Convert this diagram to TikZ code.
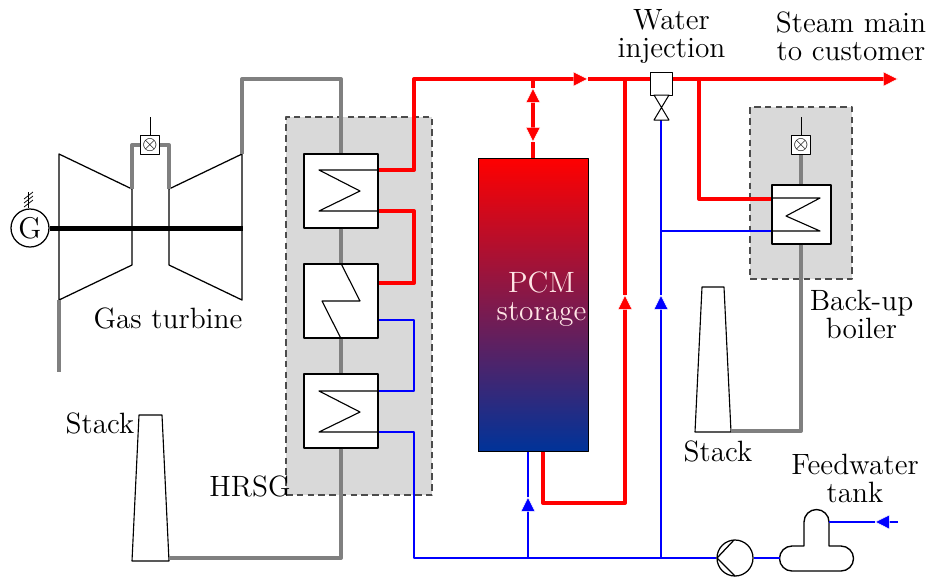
\documentclass[tikz,border=0pt]{standalone}
\usepackage{amsmath}
\usepackage{amssymb}
\usetikzlibrary{arrows.meta}
\definecolor{coldend}{rgb}{0,0.2,0.6}

\begin{document}
\begin{tikzpicture} [x=0.4pt, y=-0.4pt, line join=round,
	label/.style={font=\fontsize{11.75}{11.2}\selectfont, align=center, inner sep=0pt},
	unit/.style={draw=black, line width=0.5pt},
	casing/.style={draw=black!70, fill=black!15, line width=0.8pt, dash pattern=on 2.6pt off 1.7pt},
	hxbox/.style={draw=black, fill=white, line width=0.45pt, minimum size=29.6pt, inner sep=0pt},
	burner/.style={draw=black, fill=white, line width=0.6pt, minimum size=7.6pt, inner sep=0pt, font=\fontsize{7}{7}\selectfont},
	gaspipe/.style={draw=black!50, line width=1.6pt},
	steam/.style={draw=red, line width=1.6pt},
	water/.style={draw=blue, line width=0.47pt},
	steamflow/.style={steam, -{Triangle[length=5.8pt, width=5.8pt, fill=red, color=white, line width=0.15pt]}},
	waterflow/.style={water, -{Triangle[length=5.8pt, width=5.8pt, fill=blue, color=white, line width=0.15pt]}}]
	\clip (0,0) rectangle (931,576);

	% casings
	\node (hrsg) [casing, minimum width=58.4pt, minimum height=151.2pt, inner sep=0pt] at (359,306) {};
	\node (boiler) [casing, minimum width=40.8pt, minimum height=68.8pt, inner sep=0pt] at (801,193) {};

	% gas turbine
	\coordinate (cin) at (59,300);
	\coordinate (cout) at (132,189);
	\coordinate (tin) at (169,189);
	\coordinate (tout) at (242,154);
	\draw [unit] (59,154) -- (cout) -- (132,265) -- (cin) -- cycle;
	\draw [unit] (tout) -- (tin) -- (169,265) -- (242,300) -- cycle;
	\node (gen) [circle, draw, fill=white, line width=0.5pt, minimum size=15.2pt, inner sep=0pt, font=\fontsize{12}{12}\selectfont] at (30,228) {G};
	\coordinate (shaftend) at (243,228);
	\draw [line width=2pt] (gen) -- (shaftend);
	\coordinate (gridtop) at (28,192);
	\draw [line width=0.4pt] (gen.north -| gridtop) -- (gridtop);
	\draw [line width=0.3pt] (24,207) -- (33,200) (24,203) -- (33,196) (24,199) -- (33,192);
	\node (combustor) [burner] at (150,145) {$\otimes$};
	\coordinate (fuela) at (150,117);
	\draw [line width=0.4pt] (fuela) -- (combustor);
	\coordinate (airin) at (59,372);

	% heat exchangers
	\node (eco) [hxbox] at (341,411) {};
	\node (eva) [hxbox] at (341,301) {};
	\node (sup) [hxbox] at (341,191) {};
	\node (aux) [hxbox, minimum size=23.6pt] at (801.5,214.5) {};
	\draw [line width=0.45pt] (sup.east |- 0,170) -- (319,170) -- (360,191) -- (319,211) -- (sup.east |- 0,211);
	\draw [line width=0.45pt] (eva.north) -- (360,301) -- (322,301) -- (eva.south);
	\draw [line width=0.45pt] (eco.east |- 0,391) -- (319,391) -- (360,412) -- (319,432) -- (eco.east |- 0,432);
	\draw [line width=0.45pt] (aux.west |- 0,198) -- (820,198) -- (786,216) -- (820,231) -- (aux.west |- 0,231);

	% flue gas
	\coordinate (stackaout) at (169,558);
	\coordinate (stackbout) at (731,431);
	\draw [unit, line width=0.45pt] (139,415) -- (162,415) -- (169,561) -- (132,561) -- cycle;
	\draw [unit, line width=0.45pt] (702,287) -- (724,287) -- (731,432) -- (695,432) -- cycle;
	\draw [gaspipe] (cin) -- (airin);
	\draw [gaspipe] (cout) |- (combustor);
	\draw [gaspipe] (tin) |- (combustor);
	\draw [gaspipe] (tout) |- (sup.north |- 0,79) -- (sup.north);
	\draw [gaspipe] (sup) -- (eva);
	\draw [gaspipe] (eva) -- (eco);
	\draw [gaspipe] (eco.south) |- (stackaout);
	\node (auxburner) [burner] at (801,145) {$\otimes$};
	\coordinate (fuelb) at (801,117);
	\draw [line width=0.4pt] (fuelb) -- (auxburner);
	\draw [gaspipe] (auxburner) -- (aux.north -| auxburner);
	\draw [gaspipe] (aux.south -| auxburner) |- (stackbout);

	% storage
	\node (storage) [draw=black, line width=0.4pt, top color=red, bottom color=coldend, minimum width=44pt, minimum height=117.2pt, inner sep=0pt] at (533,304.5) {};
	\node (storagelabel) [label, text=white!90!red] at (541.5,299.5) {PCM\\storage};

	% steam lines
	\coordinate (steamout) at (898,79);
	\coordinate (mainflow) at (588,79);
	\coordinate (steamtop) at (414,79);
	\coordinate (tap) at (533,79);
	\coordinate (risertop) at (625,79);
	\coordinate (risertip) at (625,295);
	\coordinate (branch) at (699,79);
	\coordinate (chargetip) at (533,88);
	\coordinate (dischargetip) at (533,142);
	\coordinate (storagemid) at (533,115);
	\draw [steamflow] (mainflow) -- (steamout);
	\draw [steamflow] (sup.east |- 0,170) -| (steamtop) -- (mainflow);
	\draw [steam] (sup.east |- 0,211) -| (414,283) -- (eva.east |- 0,283);
	\draw [steam] (tap) -- (chargetip);
	\draw [steam] (dischargetip) -- (storage.north);
	\draw [steamflow] (storagemid) -- (chargetip);
	\draw [steamflow] (storagemid) -- (dischargetip);
	\draw [steam] (risertip) -- (risertop);
	\draw [steamflow] (storage.south -| 543,0) |- (625,503) -- (risertip);
	\draw [steam] (branch) |- (aux.west |- 0,199);

	% water lines
	\node (pump) [circle, draw, line width=0.5pt, minimum size=14.4pt, inner sep=0pt] at (735,558) {};
	\coordinate (junction) at (661,558);
	\coordinate (lowline) at (414,558);
	\coordinate (storagein) at (528,558);
	\coordinate (storagetip) at (528,497);
	\coordinate (injtip) at (661,295);
	\coordinate (feedin) at (898,522);
	\coordinate (feedtip) at (875,522);
	\draw [water] (eva.east |- 0,320) -| (414,391) -- (eco.east |- 0,391);
	\draw [water] (eco.east |- 0,432) -| (lowline) -- (pump.west);
	\draw [water] (storage.south -| storagetip) -- (storagetip);
	\draw [waterflow] (storagein) -- (storagetip);
	\draw [water] (661,120) -- (injtip);
	\draw [waterflow] (junction) -- (injtip);
	\draw [water] (661,231) -- (aux.west |- 0,231);
	\draw [line width=0.5pt] (717,558) -- (734,540) (717,558) -- (735,576);

	% feedwater tank
	\draw [line width=0.55pt] (804,546) -- (804,522) arc (180:360:12.5) -- (829,546) -- (841,546) arc (-90:90:12.5) -- (792,571) arc (90:270:12.5) -- cycle;
	\coordinate (tankin) at (829,522);
	\coordinate (tankout) at (780,558);
	\draw [water] (pump.east) -- (tankout);
	\draw [water] (feedtip) -- (tankin);
	\draw [waterflow] (feedin) -- (feedtip);

	% injection valve
	\node (injbox) [draw=black, fill=white, line width=0.4pt, minimum width=8.8pt, minimum height=9.2pt, inner sep=0pt] at (661,83.5) {};
	\draw [line width=0.4pt, fill=white] (654,95) -- (669,95) -- (654,120) -- (669,120) -- cycle;

	% labels
	\node (gtlabel) [label] at (168,318) {Gas turbine};
	\node (stacka) [label] at (100,423) {Stack};
	\node (hrsglabel) [label] at (250,486) {HRSG};
	\node (stackb) [label] at (718,451) {Stack};
	\node (backup) [label] at (861.5,314) {Back-up\\boiler};
	\node (feed) [label] at (855,478) {Feedwater\\tank};
	\node (injection) [label] at (671.5,36) {Water\\injection};
	\node (steammain) [label] at (851,36) {Steam main\\to customer};
\end{tikzpicture}
\end{document}
